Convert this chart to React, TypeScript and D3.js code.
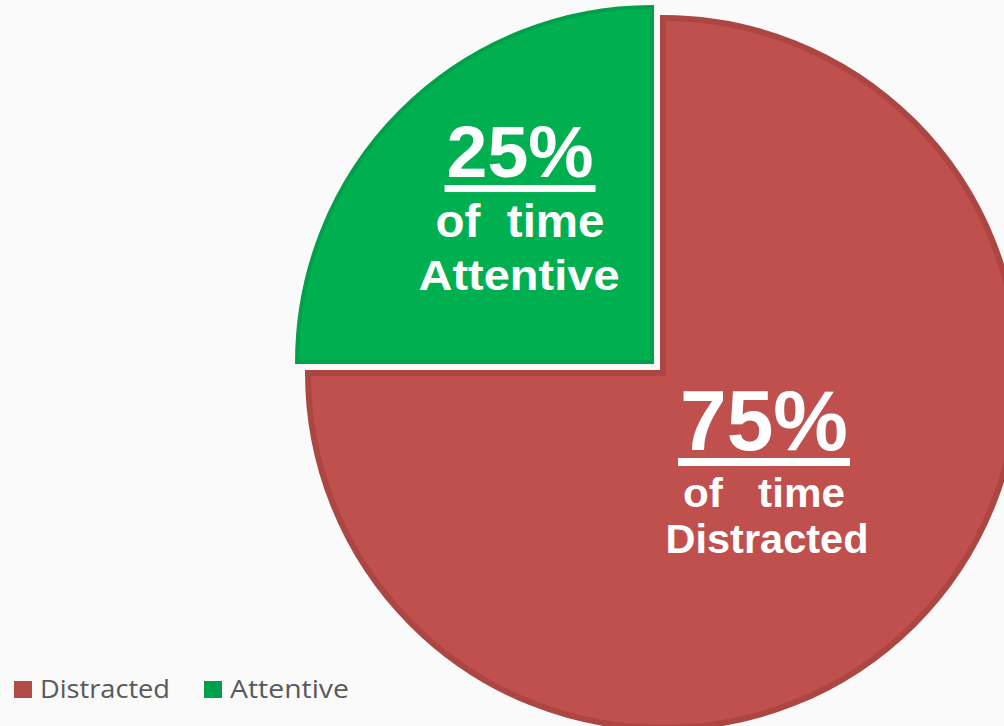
import React from "react";
import * as d3 from "d3";

const categories = ["Distracted", "Attentive"];
const values = [75, 25];
const fills = ["#c0504d", "#00b050"];
const strokes = ["#ab4643", "#00a14a"];
const legendColors = ["#b04b48", "#00a04a"];
const pctLabels = ["75%", "25%"];
const line2 = ["of   time", "of  time"];
const line3 = ["Distracted", "Attentive"];

const W = 1004;
const H = 726;

export default function App() {
  const cx = 663;
  const cy = 373;
  const R = 355;
  const explode = 15.5;

  const pie = d3.pie<number>().sort(null).value((d) => d);
  const arcs = pie(values);
  const arcGen = d3.arc<d3.PieArcDatum<number>>().innerRadius(0).outerRadius(R);

  const labelCfg = [
    { dx: 101, y1: 77, y2: 134, y3: 180, f1: 86, f2: 41, f3: 40, w1: 168, w2: 162, w3: 203, x3: 3, ul: [8, 8] },
    { dx: -132, y1: -185, y2: -125, y3: -72, f1: 73, f2: 46, f3: 42, w1: 147, w2: 169, w3: 201, x3: -1, ul: [8, 7] },
  ];
  const legendWidths = [130, 119];

  return (
    <svg
      width={W}
      height={H}
      style={{ position: "absolute", left: 0, top: 0 }}
      fontFamily="'Liberation Sans', Arial, sans-serif"
    >
      <rect width={W} height={H} fill="#fafafa" />
      {arcs.map((a, i) => {
        const mid = (a.startAngle + a.endAngle) / 2;
        const off = i === 1 ? explode : 0;
        const ox = Math.sin(mid) * off;
        const oy = -Math.cos(mid) * off;
        return (
          <g key={categories[i]} transform={`translate(${cx + ox},${cy + oy})`}>
            <path d={arcGen(a) || ""} fill={fills[i]} stroke={strokes[i]} strokeWidth={i === 0 ? 6 : 4} />
          </g>
        );
      })}
      {arcs.map((a, i) => {
        const mid = (a.startAngle + a.endAngle) / 2;
        const off = i === 1 ? explode : 0;
        const ox = cx + Math.sin(mid) * off;
        const oy = cy - Math.cos(mid) * off;
        const c = labelCfg[i];
        const lx = ox + c.dx;
        return (
          <g key={"lab" + i} fill="#ffffff" fontWeight="bold" textAnchor="middle">
            <text x={lx} y={oy + c.y1} fontSize={c.f1} textLength={c.w1} lengthAdjust="spacingAndGlyphs">
              {pctLabels[i]}
            </text>
            <rect x={lx - c.w1 / 2 - 2} y={oy + c.y1 + c.ul[0]} width={c.w1 + 4} height={c.ul[1]} fill="#ffffff" />
            <text x={lx} y={oy + c.y2} fontSize={c.f2} textLength={c.w2} lengthAdjust="spacingAndGlyphs" style={{ whiteSpace: "pre" }}>
              {line2[i]}
            </text>
            <text x={lx + c.x3} y={oy + c.y3} fontSize={c.f3} textLength={c.w3} lengthAdjust="spacingAndGlyphs">
              {line3[i]}
            </text>
          </g>
        );
      })}
      <g fontFamily="'Open Sans', 'Noto Sans', sans-serif" fontSize={26} fill="#595959">
        {categories.map((c, i) => {
          const x0 = i === 0 ? 14 : 204;
          return (
            <g key={"leg" + c}>
              <rect x={x0} y={681} width={18} height={17} fill={legendColors[i]} />
              <text x={x0 + 26} y={698} textLength={legendWidths[i]} lengthAdjust="spacingAndGlyphs">{c}</text>
            </g>
          );
        })}
      </g>
    </svg>
  );
}
